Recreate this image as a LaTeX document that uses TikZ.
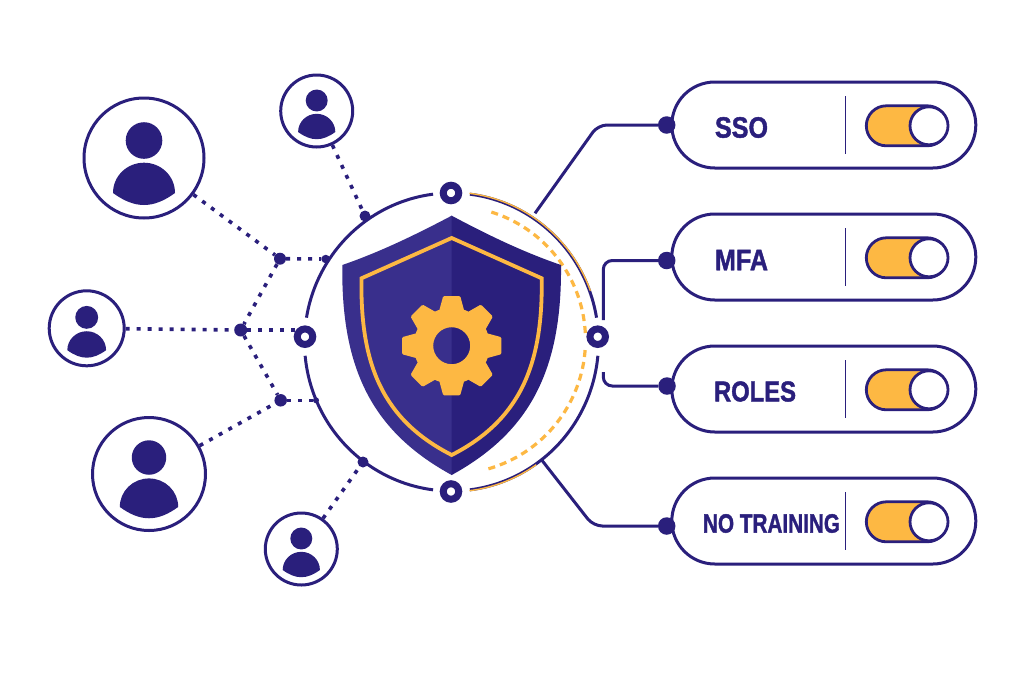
\documentclass[tikz,border=0pt]{standalone}
\usepackage{fontspec}
\setmainfont{Liberation Sans}
\newfontfamily\tagfont[FakeBold=1.6]{Liberation Sans Bold}
\usepackage{graphicx}
\definecolor{navy}{HTML}{2A1F7C}
\definecolor{navyl}{HTML}{392F8C}
\definecolor{amber}{HTML}{FDB843}
\tikzset{
  ringarc/.style={draw=navy,line width=3pt,line cap=butt},
  conn/.style={draw=navy,line width=3pt,rounded corners=9pt},
  dotted link/.style={draw=navy,line width=3.6pt,dash pattern=on 4pt off 7pt},
  dotnode/.style={circle,fill=navy,inner sep=0pt},
  ringnode/.style={circle,draw=navy,fill=white,line width=7pt,inner sep=0pt,minimum size=15.5pt},
  avatar/.style={circle,draw=navy,fill=white,line width=3pt,inner sep=0pt},
  pill/.style={draw=navy,fill=white,line width=3pt,rounded corners=43pt,minimum width=304pt,minimum height=86pt,inner sep=0pt},
  track/.style={draw=navy,fill=amber,line width=2.8pt,rounded corners=20pt,minimum width=81pt,minimum height=40pt,inner sep=0pt},
  knob/.style={circle,draw=navy,fill=white,line width=2.8pt,minimum size=38pt,inner sep=0pt},
  tag/.style={text=navy,inner sep=0pt,font=\tagfont},
  sep/.style={draw=navy,line width=0.8pt},
  orangeedge/.style={draw=amber,line width=1.4pt},
  orangedash/.style={draw=amber,line width=3.2pt,dash pattern=on 7pt off 5pt}
}
% name, x, y, radius
\newcommand{\personicon}[4]{%
  \node[avatar,minimum size=#4*2 pt] (#1) at (#2,#3) {};
  \begin{scope}[shift={(#2,#3)},scale=#4/60]
    \fill[navy] (0,-17.5) circle[radius=18.3];
    \fill[navy] (-31,35) .. controls (-31,18) and (-17,4.7) .. (0,4.7)
      .. controls (17,4.7) and (31,18) .. (31,35)
      .. controls (20,43) and (10,47) .. (0,47)
      .. controls (-10,47) and (-20,43) .. (-31,35) -- cycle;
  \end{scope}}
% name, y, label, label x, label y, width, height
\newcommand{\optionrow}[7]{%
  \node[pill] (p#1) at (823.8,#2) {};
  \node[tag] (l#1) at (#4,#5) {\resizebox{#6pt}{#7pt}{#3}};
  \coordinate (sa#1) at (845,#2-29);
  \coordinate (sb#1) at (845,#2+29);
  \draw[sep] (sa#1) -- (sb#1);
  \node[track] (t#1) at (906.8,#2+0.8) {};
  \node[knob] (k#1) at (929,#2+0.8) {};
}
\begin{document}
\begin{tikzpicture}[x=1pt,y=-1pt]
\useasboundingbox (0,0) rectangle (1024,683);
\fill[white] (0,0) rectangle (1024,683);

% option pills
\optionrow{a}{125}{SSO}{741.5}{127.5}{53}{20.5}
\optionrow{b}{257}{MFA}{741.5}{260}{53}{20.5}
\optionrow{c}{389}{ROLES}{755}{391.5}{82}{20}
\optionrow{d}{521}{NO TRAINING}{771.5}{523.5}{137}{18.5}

% outer ring
\begin{scope}[shift={(451.5,342)}]
  \draw[ringarc] plot[domain=97.2:170.6,samples=40,smooth] ({147*cos(\x)},{-149*sin(\x)});
  \draw[ringarc] plot[domain=185.3:262.8,samples=40,smooth] ({147*cos(\x)},{-149*sin(\x)});
  \draw[ringarc] plot[domain=277.2:354.7,samples=40,smooth] ({147*cos(\x)},{-149*sin(\x)});
  \draw[ringarc] plot[domain=9.4:82.8,samples=40,smooth] ({147*cos(\x)},{-149*sin(\x)});
  \draw[orangeedge] plot[domain=20:83,samples=30,smooth] ({147.8*cos(\x)},{-149.8*sin(\x)});
  \draw[orangeedge] plot[domain=277:305,samples=20,smooth] ({147.8*cos(\x)},{-149.8*sin(\x)});
\end{scope}
% inner dashed arc
\begin{scope}[shift={(451.5,340)}]
  \draw[orangedash] plot[domain=3:73,samples=40,smooth] ({134*cos(\x)},{-134*sin(\x)});
  \draw[orangedash] plot[domain=286:357,samples=40,smooth] ({134*cos(\x)},{-134*sin(\x)});
\end{scope}

% shield
\fill[navyl] (452.2,215.9) -- (451.7,215.7) .. controls (415,235) and (380,252) .. (342.3,265)
  .. controls (341,370) and (373,432) .. (451.7,475) -- (452.2,474.7) -- cycle;
\fill[navy] (451.7,215.7) .. controls (488,235) and (523,252) .. (561,265)
  .. controls (562,370) and (530,432) .. (451.7,475) -- cycle;
\draw[amber,line width=3.8pt,line join=miter] (451.7,238) -- (541.7,278.3)
  .. controls (543,365) and (520,420) .. (451.7,455)
  .. controls (383,420) and (360,365) .. (361.5,278.3) -- cycle;

% gear
\begin{scope}[shift={(451.7,345.7)}]
  \fill[amber,even odd rule] (0,0) circle[radius=38] (0,0) circle[radius=18.5];
  \foreach \a in {0,45,...,315}{
    \fill[amber,rotate=\a,rounded corners=1.2pt] (-12.5,-35) -- (-8.5,-49.7) -- (8.5,-49.7) -- (12.5,-35) -- cycle;
  }
\end{scope}

% hub points
\node[ringnode] (rt) at (451,193) {};
\node[ringnode] (rb) at (451,491.5) {};
\node[ringnode] (rl) at (305,336.7) {};
\node[ringnode] (rr) at (597.7,336.7) {};

\node[dotnode,minimum size=12pt] (ja) at (280,258.7) {};
\node[dotnode,minimum size=13pt] (jb) at (240.7,330) {};
\node[dotnode,minimum size=12.5pt] (jc) at (280.7,400.3) {};
\node[dotnode,minimum size=11pt] (qa) at (365,216) {};
\node[dotnode,minimum size=8.5pt] (qb) at (325.7,259) {};
\node[dotnode,minimum size=11pt] (qc) at (363,462) {};
\node[dotnode,minimum size=6pt] (qd) at (316,400.3) {};
\coordinate (jbr) at (296.7,330);

% people
\personicon{ua}{144}{158}{60}
\personicon{ub}{316.7}{111}{36}
\personicon{uc}{86.7}{328.3}{37.5}
\personicon{ud}{149}{474}{56.5}
\personicon{ue}{301.3}{549}{36}

% dotted links
\draw[dotted link] (ua) -- (ja);
\draw[dotted link] (ub) -- (qa);
\draw[dotted link] (uc) -- (jb);
\draw[dotted link] (ud) -- (jc);
\draw[dotted link] (ue) -- (qc);
\draw[dotted link] (ja) -- (qb);
\draw[dotted link] (ja) -- (jb);
\draw[dotted link] (jb) -- (jc);
\draw[dotted link] (jb) -- (jbr);
\draw[dotted link] (jc) -- (qd);

% connectors to options
\node[dotnode,minimum size=17.5pt] (da) at (666.7,125) {};
\node[dotnode,minimum size=17.5pt] (db) at (666.7,260.5) {};
\node[dotnode,minimum size=17.5pt] (dc) at (667,386) {};
\node[dotnode,minimum size=17.5pt] (dd) at (666.7,526) {};
\coordinate (ca) at (535,213.3);
\coordinate (cak) at (598,125);
\coordinate (cb) at (603.3,320);
\coordinate (cbk) at (603.3,260.5);
\coordinate (cc) at (603.3,372);
\coordinate (cck) at (603.3,386);
\coordinate (cd) at (541.7,460);
\coordinate (cdk) at (593.3,526);
\draw[conn] (ca) -- (cak) -- (da);
\draw[conn] (cb) -- (cbk) -- (db);
\draw[conn] (cc) -- (cck) -- (dc);
\draw[conn] (cd) -- (cdk) -- (dd);
\end{tikzpicture}
\end{document}
